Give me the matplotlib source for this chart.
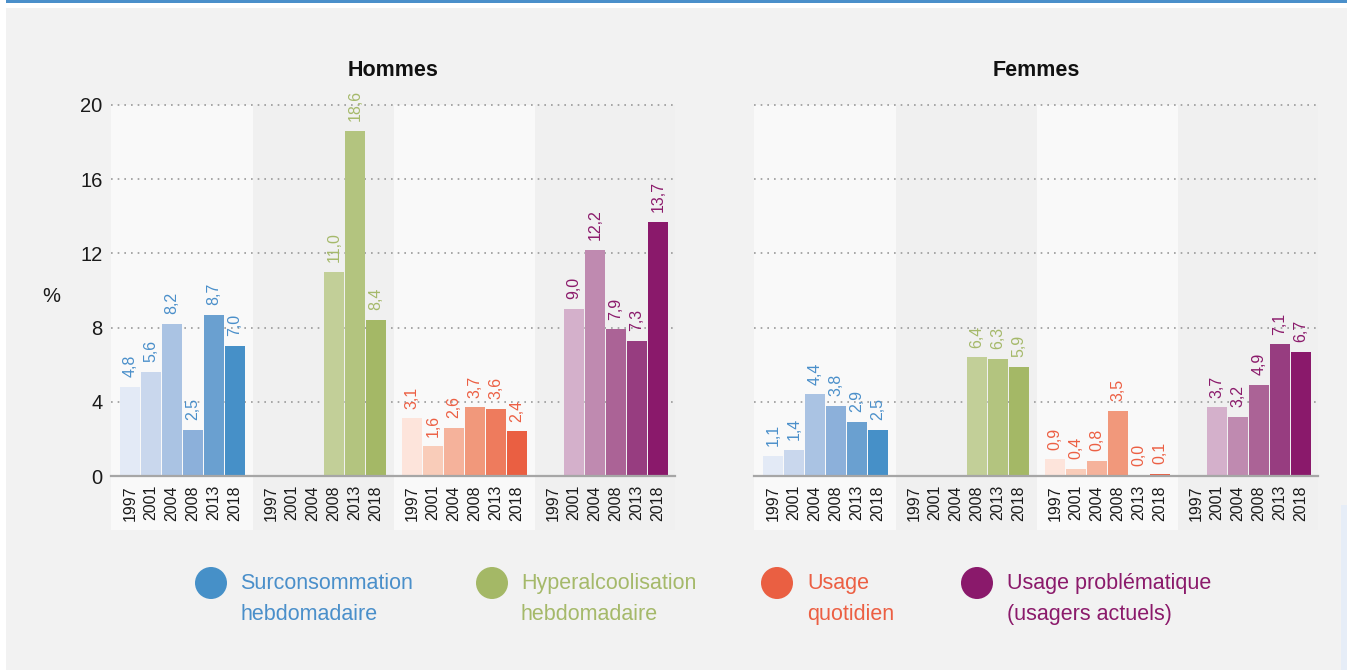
import matplotlib.pyplot as plt
from matplotlib.patches import Rectangle, Circle

plt.rcParams['font.family'] = ['Liberation Sans Narrow', 'Liberation Sans', 'DejaVu Sans']

W, H = 1347, 670

years = ["1997", "2001", "2004", "2008", "2013", "2018"]
labels = ["Surconsommation\nhebdomadaire", "Hyperalcoolisation\nhebdomadaire",
          "Usage\nquotidien", "Usage problématique\n(usagers actuels)"]

# values in %, None = no data
hommes_surconso = [4.8, 5.6, 8.2, 2.5, 8.7, 7.0]
hommes_hyper = [None, None, None, 11.0, 18.6, 8.4]
hommes_quotidien = [3.1, 1.6, 2.6, 3.7, 3.6, 2.4]
hommes_probleme = [None, 9.0, 12.2, 7.9, 7.3, 13.7]

femmes_surconso = [1.1, 1.4, 4.4, 3.8, 2.9, 2.5]
femmes_hyper = [None, None, None, 6.4, 6.3, 5.9]
femmes_quotidien = [0.9, 0.4, 0.8, 3.5, 0.0, 0.1]
femmes_probleme = [None, 3.7, 3.2, 4.9, 7.1, 6.7]

# bar shades per year, and text colour per indicator
shades = [
    ["#e3eaf6", "#c9d7ed", "#aac3e3", "#8cb0da", "#6aa0d0", "#4690c8"],
    ["#e8edd8", "#d9e2bd", "#cdd8aa", "#c2cf98", "#b3c47f", "#a4b866"],
    ["#fde4db", "#f9ccb9", "#f5b29b", "#f1987b", "#ee7b5d", "#ea5f42"],
    ["#e8d6e4", "#d4b0cb", "#bf8ab0", "#ab6396", "#973d80", "#8a196b"],
]
text_colors = ["#4a8fca", "#a5b96a", "#ec5f43", "#8b1a6b"]

panels = [
    ("Hommes", [hommes_surconso, hommes_hyper, hommes_quotidien, hommes_probleme], 111),
    ("Femmes", [femmes_surconso, femmes_hyper, femmes_quotidien, femmes_probleme], 754),
]


def fx(x):
    return x / W


def fy(y):
    return 1 - y / H


fig = plt.figure(figsize=(W / 100, H / 100), dpi=100, facecolor="white")

# page decoration
fig.add_artist(Rectangle((fx(6), 0), 1, fy(8), transform=fig.transFigure,
                         facecolor="#f2f2f2", edgecolor="none", zorder=-10))
fig.add_artist(Rectangle((fx(6), fy(3)), 1, 1, transform=fig.transFigure,
                         facecolor="#4a8fca", edgecolor="none", zorder=-10))
fig.add_artist(Rectangle((fx(1341), 0), 1, fy(505), transform=fig.transFigure,
                         facecolor="#e6edf7", edgecolor="none", zorder=-9))

step = 6.714
width = 0.95
x_left = -0.904
x_right = 25.95
y_top, y_zero = 105, 476
band_below = (530 - y_zero) / (y_zero - y_top)

for pi, (title, series, left) in enumerate(panels):
    ax = fig.add_axes([fx(left), fy(y_zero), fx(564), (y_zero - y_top) / H])
    ax.set_facecolor("none")
    ax.set_xlim(x_left, x_right)
    ax.set_ylim(0, 20)

    bounds = [x_left] + [g * step + 5.857 for g in range(3)] + [x_right]
    for g in range(4):
        ax.axvspan(bounds[g], bounds[g + 1], ymin=-band_below, ymax=1,
                   facecolor="#f9f9f9" if g % 2 == 0 else "#f0f0f0",
                   edgecolor="none", zorder=0, clip_on=False)

    ax.hlines([4, 8, 12, 16, 20], x_left, x_right, colors="#9a9a9a",
              linestyles=(0, (1, 3)), lw=1.2, zorder=0.5, clip_on=False)

    ticks, ticklabels = [], []
    for g, vals in enumerate(series):
        for j, v in enumerate(vals):
            x = g * step + j
            ticks.append(x)
            ticklabels.append(years[j])
            if v is None:
                continue
            ax.bar(x, v, width=width, color=shades[g][j], zorder=2)
            ax.annotate(f"{v:.1f}".replace(".", ","), (x, v), xytext=(0, 7),
                        textcoords="offset points", rotation=90, ha="center",
                        va="bottom", color=text_colors[g], fontsize=11.5,
                        annotation_clip=False)

    ax.set_xticks(ticks)
    ax.set_xticklabels(ticklabels, rotation=90, fontsize=11.5, color="#1a1a1a")
    ax.tick_params(axis="x", length=0, pad=6.5)
    ax.set_yticks([0, 4, 8, 12, 16, 20])
    if pi == 0:
        ax.tick_params(axis="y", length=0, pad=6, labelsize=14.5, labelcolor="#1a1a1a")
    else:
        ax.tick_params(axis="y", length=0, labelleft=False)

    for s in ["top", "right", "left"]:
        ax.spines[s].set_visible(False)
    ax.spines["bottom"].set_color("#a6a6a6")
    ax.spines["bottom"].set_linewidth(1.6)
    ax.spines["bottom"].set_zorder(3)

    fig.text(fx(left + 282), fy(71), title, ha="center", va="center",
             fontsize=15.5, fontweight="bold", color="#111111")

fig.text(fx(51), fy(297), "%", ha="center", va="center", fontsize=14.5, color="#1a1a1a")

# legend
legend_pos = [(211, 240), (492, 521), (777, 807), (977, 1007)]
for k, ((cx, tx), lab, col) in enumerate(zip(legend_pos, labels, text_colors)):
    fig.add_artist(Circle((cx / 100, (H - 583) / 100), 0.16,
                          transform=fig.dpi_scale_trans,
                          facecolor=shades[k][5], edgecolor="none"))
    fig.text(fx(tx), fy(599), lab, ha="left", va="center", fontsize=15.5,
             color=col, linespacing=1.6)

fig.savefig("out.png", dpi=100, facecolor="white")
